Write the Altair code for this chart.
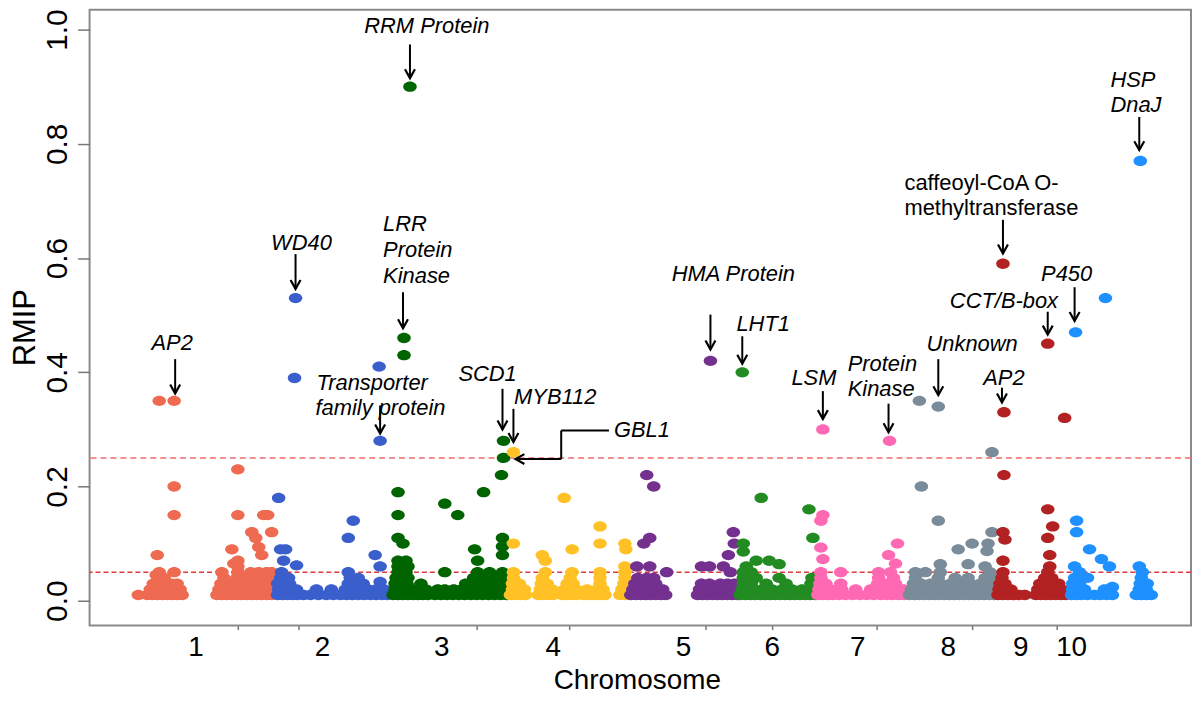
import altair as alt
import pandas as pd

# ---------------- data ----------------
chromosomes = ["1", "2", "3", "4", "5", "6", "7", "8", "9", "10"]
chrom_colors = ["#EE6A50", "#3A5FCD", "#006400", "#FFC125", "#73308F",
                "#228B22", "#FF69B4", "#7A8B99", "#B22222", "#1E90FF"]
chrom_label_pos = [197, 324, 444, 556, 687, 776, 862, 953, 1026, 1077]
x_tick_pos = [239, 300, 479, 572, 709, 776, 881, 977, 1062]
y_tick_vals = [0.0, 0.2, 0.4, 0.6, 0.8, 1.0]
threshold_upper = 0.25
threshold_lower = 0.05

chr1_pts = [
    (139, .01),
    (148, .01), (153, .01), (158, .01), (163, .01), (168, .01), (173, .01), (178, .01), (183, .01),
    (151, .02), (157, .02), (163, .02), (169, .02), (175, .02), (181, .02),
    (154, .03), (160, .03), (172, .03), (178, .03), (165, .04), (157, .045),
    (160, .05), (175, .05), (158, .08), (175, .15), (175, .20), (160, .35), (175, .35),
    (218, .01), (223, .01), (228, .01), (233, .01), (238, .01), (243, .01), (248, .01), (253, .01),
    (258, .01), (263, .01), (268, .01), (273, .01),
    (220, .02), (226, .02), (232, .02), (238, .02), (244, .02), (250, .02), (256, .02), (262, .02),
    (268, .02), (274, .02),
    (222, .03), (229, .03), (236, .03), (242, .03), (250, .03), (257, .03), (264, .03), (271, .03),
    (225, .04), (238, .04), (246, .04), (255, .04), (266, .04), (273, .04),
    (223, .05), (239, .05), (252, .05), (260, .05), (268, .05), (273, .05),
    (239, .06), (235, .065), (239, .07), (233, .09), (253, .12), (257, .11), (260, .094), (263, .08),
    (265, .15), (269, .15), (273, .12), (239, .15), (239, .23),
]
chr2_pts = [
    (279, .01), (284, .01), (289, .01), (294, .01), (299, .01), (305, .01), (312, .01), (320, .01),
    (328, .01), (335, .01), (342, .01), (348, .01), (354, .01), (360, .01), (366, .01), (372, .01),
    (378, .01), (384, .01), (389, .01),
    (280, .02), (286, .02), (292, .02), (298, .02), (318, .02), (333, .02), (347, .02), (353, .02),
    (359, .02), (370, .02), (378, .02), (386, .02),
    (279, .03), (285, .03), (291, .03), (350, .03), (356, .03), (365, .03), (382, .033),
    (282, .04), (290, .04), (352, .04), (360, .04),
    (283, .05), (350, .05), (285, .07), (298, .062), (282, .09), (287, .09), (280, .18),
    (350, .11), (355, .14), (377, .08), (382, .06),
    (296, .39), (297, .53), (381, .41), (382, .28),
]
chr3_pts = [
    (395, .01), (400, .01), (405, .01), (410, .01), (415, .01), (420, .01), (425, .01), (430, .01),
    (397, .02), (403, .02), (409, .02), (415, .02), (421, .02), (428, .02),
    (397, .03), (403, .03), (409, .03), (423, .03),
    (398, .04), (405, .04), (410, .04), (400, .05), (408, .05),
    (400, .06), (410, .06), (400, .07), (408, .07), (400, .11), (405, .10), (400, .15), (400, .19),
    (406, .43), (406, .46), (412, .90),
    (437, .01), (443, .01), (449, .01), (455, .01), (461, .01), (467, .01), (473, .01), (479, .01),
    (485, .01), (491, .01), (497, .01), (503, .01), (509, .01),
    (440, .02), (447, .02), (456, .02), (464, .02), (470, .02), (476, .02), (482, .02), (488, .02),
    (494, .02), (500, .02), (506, .02),
    (468, .03), (474, .03), (480, .03), (486, .03), (492, .03), (498, .03), (505, .03),
    (476, .04), (482, .04), (490, .04), (497, .04), (505, .04),
    (447, .05), (480, .05), (492, .05), (505, .05),
    (480, .07), (477, .09), (505, .08), (505, .095), (505, .11),
    (447, .17), (460, .15), (486, .19), (504, .22), (506, .25), (506, .28),
]
chr4_pts = [
    (513, .01), (518, .01), (523, .01), (528, .01), (515, .02), (521, .02), (527, .02),
    (515, .03), (522, .03), (516, .04), (516, .05), (516, .10), (516, .26),
    (541, .01), (546, .01), (551, .01), (556, .01), (543, .02), (549, .02), (555, .02),
    (544, .03), (550, .03), (545, .04), (548, .05), (548, .07), (545, .08),
    (565, .01), (570, .01), (575, .01), (580, .01), (567, .02), (573, .02), (579, .02),
    (570, .03), (576, .03), (573, .04), (575, .05), (575, .09), (567, .18),
    (587, .01), (592, .01), (590, .02),
    (598, .01), (603, .01), (608, .01), (600, .02), (606, .02),
    (603, .03), (603, .04), (603, .05), (603, .10), (603, .13),
    (623, .01), (628, .01), (633, .01), (625, .02), (631, .02),
    (627, .03), (628, .04), (628, .05), (628, .06), (629, .09), (628, .10),
]
chr5_pts = [
    (634, .01), (639, .01), (644, .01), (649, .01), (654, .01), (659, .01), (664, .01), (669, .01),
    (636, .02), (642, .02), (648, .02), (654, .02), (660, .02), (666, .02),
    (638, .03), (645, .03), (652, .03), (659, .03), (641, .04), (650, .04), (657, .04),
    (640, .06), (653, .06), (670, .05), (647, .10), (653, .11), (650, .22), (657, .20),
    (701, .01), (706, .01), (711, .01), (716, .01), (721, .01), (726, .01), (731, .01), (736, .01),
    (741, .01),
    (703, .02), (709, .02), (715, .02), (721, .02), (727, .02), (733, .02), (739, .02),
    (705, .03), (713, .03), (724, .03), (731, .03), (738, .03),
    (705, .06), (713, .06), (727, .06), (732, .08), (737, .12), (738, .10), (734, .05),
    (714, .42),
]
chr6_pts = [
    (744, .01), (749, .01), (754, .01), (759, .01), (764, .01), (769, .01), (774, .01), (779, .01),
    (784, .01), (789, .01), (794, .01), (799, .01), (804, .01), (809, .01), (814, .01), (819, .01),
    (746, .02), (752, .02), (758, .02), (766, .02), (776, .02), (786, .02), (796, .02), (806, .02),
    (812, .02), (818, .02),
    (747, .03), (755, .03), (770, .03), (790, .03), (815, .03),
    (747, .04), (760, .04), (783, .04), (816, .04),
    (747, .05), (755, .05), (750, .06), (760, .07), (773, .07), (783, .064), (747, .086), (747, .10),
    (765, .18), (813, .16), (817, .11), (746, .40),
]
chr7_pts = [
    (822, .01), (827, .01), (832, .01), (837, .01), (843, .01), (850, .01), (857, .01), (864, .01),
    (871, .01), (878, .01), (885, .01), (891, .01), (897, .01), (903, .01), (909, .01),
    (823, .02), (829, .02), (835, .02), (846, .02), (860, .02), (875, .02), (884, .02), (890, .02),
    (896, .02), (902, .02), (908, .02),
    (824, .03), (830, .03), (845, .03), (882, .03), (892, .03), (900, .03),
    (825, .04), (883, .04), (898, .04),
    (825, .05), (845, .05), (883, .05), (895, .05),
    (827, .073), (825, .093), (825, .14), (827, .15), (893, .08), (900, .065), (902, .10),
    (827, .30), (894, .28),
]
chr8_pts = [
    (914, .01), (919, .01), (924, .01), (929, .01), (934, .01), (939, .01), (944, .01), (949, .01),
    (954, .01), (959, .01), (964, .01), (969, .01), (974, .01), (979, .01), (984, .01), (989, .01),
    (994, .01), (999, .01),
    (916, .02), (922, .02), (928, .02), (934, .02), (940, .02), (946, .02), (952, .02), (958, .02),
    (964, .02), (970, .02), (976, .02), (982, .02), (988, .02), (994, .02), (1000, .02),
    (918, .03), (926, .03), (935, .03), (945, .03), (955, .03), (965, .03), (975, .03), (985, .03),
    (995, .03),
    (920, .04), (943, .04), (960, .04), (973, .04), (990, .04), (998, .04),
    (920, .05), (930, .05), (945, .05), (995, .05),
    (945, .064), (973, .064), (990, .06), (963, .09), (977, .10), (992, .087), (993, .10),
    (997, .12), (943, .14), (926, .20), (997, .26), (924, .35), (943, .34),
]
chr9_pts = [
    (1003, .01), (1008, .01), (1013, .01), (1018, .01), (1024, .01), (1030, .01),
    (1004, .02), (1010, .02), (1016, .02), (1005, .03), (1010, .03),
    (1007, .04), (1008, .05), (1008, .07), (1008, .12), (1010, .107), (1009, .22), (1009, .33),
    (1008, .59),
    (1041, .01), (1046, .01), (1051, .01), (1056, .01), (1061, .01), (1066, .01), (1071, .01),
    (1043, .02), (1049, .02), (1055, .02), (1061, .02), (1067, .02),
    (1045, .03), (1052, .03), (1058, .03), (1064, .03), (1050, .04), (1057, .04),
    (1053, .05), (1055, .06), (1055, .08), (1053, .11), (1058, .13), (1053, .16), (1053, .45),
    (1070, .32),
]
chr10_pts = [
    (1077, .01), (1082, .01), (1087, .01), (1093, .01), (1100, .01), (1106, .01), (1112, .01),
    (1118, .01), (1142, .01), (1147, .01), (1152, .01), (1157, .01),
    (1078, .02), (1084, .02), (1090, .02), (1110, .02), (1118, .024), (1145, .02), (1152, .02),
    (1078, .03), (1085, .03), (1146, .03), (1153, .03),
    (1080, .04), (1093, .04), (1147, .04),
    (1085, .05), (1148, .05), (1080, .06), (1115, .06), (1145, .06), (1107, .073), (1095, .09),
    (1082, .12), (1082, .14),
    (1081, .47), (1111, .53), (1146, .77),
]

# annotation arrows: x position, top of shaft, tip (RMIP units)
arrow_x = [176, 297, 382, 405, 412, 505, 516, 714, 746, 827, 893, 943, 1007, 1008, 1053, 1080, 1145]
arrow_top = [0.423, 0.607, 0.342, 0.540, 0.974, 0.371, 0.336, 0.501, 0.463, 0.367, 0.345,
             0.423, 0.373, 0.667, 0.506, 0.549, 0.847]
arrow_tip = [0.363, 0.546, 0.293, 0.477, 0.915, 0.300, 0.278, 0.440, 0.415, 0.318, 0.295,
             0.360, 0.347, 0.608, 0.466, 0.490, 0.789]
# elbow arrow for GBL1
gbl1_path_x = [612, 564, 564, 518]
gbl1_path_y = [0.298, 0.298, 0.248, 0.248]

label_text = ["AP2", "WD40", "LRR", "Protein", "Kinase", "Transporter", "family protein",
              "RRM Protein", "SCD1", "MYB112", "GBL1", "HMA Protein", "LHT1", "LSM",
              "Protein", "Kinase", "Unknown", "AP2", "CCT/B-box", "P450",
              "caffeoyl-CoA O-", "methyltransferase", "HSP", "DnaJ"]
label_x = [173, 303, 385, 385, 385, 318, 317, 429, 490, 558, 617, 737, 767, 818,
           852, 852, 977, 1009, 1009, 1072, 909, 909, 1116, 1116]
label_y = [0.451, 0.626, 0.659, 0.614, 0.568, 0.381, 0.338, 1.006, 0.397, 0.357, 0.298,
           0.572, 0.485, 0.390, 0.414, 0.371, 0.449, 0.390, 0.525, 0.572, 0.731, 0.688,
           0.912, 0.868]
label_align = ["center", "center", "left", "left", "left", "left", "left", "center", "center",
               "center", "left", "center", "center", "center", "left", "left", "center",
               "center", "center", "center", "left", "left", "left", "left"]
label_italic = [True] * 20 + [False, False] + [True, True]

# ---------------- tables ----------------
all_pts = [chr1_pts, chr2_pts, chr3_pts, chr4_pts, chr5_pts,
           chr6_pts, chr7_pts, chr8_pts, chr9_pts, chr10_pts]
rows = []
for name, pts in zip(chromosomes, all_pts):
    for px, v in pts:
        rows.append({"pos": px, "rmip": v, "chrom": name})
points_df = pd.DataFrame(rows)

seg_rows = [{"x": ax, "x2": ax, "y": at, "y2": tp} for ax, at, tp in zip(arrow_x, arrow_top, arrow_tip)]
for i in range(len(gbl1_path_x) - 1):
    seg_rows.append({"x": gbl1_path_x[i], "x2": gbl1_path_x[i + 1],
                     "y": gbl1_path_y[i], "y2": gbl1_path_y[i + 1]})
seg_df = pd.DataFrame(seg_rows)

head_rows = [{"x": ax, "y": tp, "ang": 0} for ax, tp in zip(arrow_x, arrow_tip)]
head_rows.append({"x": gbl1_path_x[-1], "y": gbl1_path_y[-1], "ang": 90})
head_df = pd.DataFrame(head_rows)

lab_df = pd.DataFrame({"text": label_text, "x": label_x, "y": label_y,
                       "align": label_align, "italic": label_italic})
chrom_df = pd.DataFrame({"chrom": chromosomes, "x": chrom_label_pos})
thr_df = pd.DataFrame({"y": [threshold_upper, threshold_lower]})

# ---------------- chart ----------------
FONT = "Liberation Sans"
W, H = 1107, 619
xs = alt.Scale(domain=[90, 1197], nice=False, zero=False)
ys = alt.Scale(domain=[-0.0436, 1.0348], nice=False, zero=False)

ellipse = "M -1 0 A 1 0.76 0 1 1 1 0 A 1 0.76 0 1 1 -1 0 Z"
arrowhead = "M -1 -1.8 L 0 0 L 1 -1.8"

x_axis = alt.Axis(values=x_tick_pos, labels=False, tickSize=4, tickColor="#777777",
                  tickWidth=1.5, domain=False, grid=False, title="Chromosome",
                  titleFont=FONT, titleFontSize=28, titleFontWeight="normal",
                  titleColor="black", titleX=550, titleY=63, titleAlign="center",
                  titleBaseline="alphabetic")
y_axis = alt.Axis(values=y_tick_vals, format=".1f", labelAngle=270, labelAlign="center",
                  labelBaseline="alphabetic", labelFont=FONT, labelFontSize=30,
                  labelColor="black", labelPadding=11, tickSize=12, tickColor="#777777",
                  tickWidth=1.5, domain=False, grid=False, title="RMIP", titleFont=FONT,
                  titleFontSize=31, titleFontWeight="normal", titleColor="black",
                  titleAngle=270, titleX=-55, titleY=319, titleAlign="center",
                  titleBaseline="alphabetic")


def X(field):
    return alt.X(field, scale=xs, axis=x_axis)


def Y(field):
    return alt.Y(field, scale=ys, axis=y_axis)


base_thr = alt.Chart(thr_df)
thr_up = base_thr.transform_filter(alt.datum.y > 0.1).mark_rule(
    color="#F26B6B", strokeWidth=1.5, strokeDash=[6, 4]).encode(y=Y("y:Q"))
thr_lo = base_thr.transform_filter(alt.datum.y < 0.1).mark_rule(
    color="#E0383C", strokeWidth=1.5, strokeDash=[5, 3]).encode(y=Y("y:Q"))

pts = alt.Chart(points_df).mark_point(shape=ellipse, filled=True, size=185, opacity=1,
                                      strokeWidth=0).encode(
    x=X("pos:Q"),
    y=Y("rmip:Q"),
    color=alt.Color("chrom:N", scale=alt.Scale(domain=chromosomes, range=chrom_colors),
                    legend=None),
)

shafts = alt.Chart(seg_df).mark_rule(color="black", strokeWidth=2).encode(
    x=X("x:Q"), x2="x2:Q", y=Y("y:Q"), y2="y2:Q")

heads = alt.Chart(head_df).mark_point(shape=arrowhead, filled=False, size=100, opacity=1,
                                      color="black", strokeWidth=2.2).encode(
    x=X("x:Q"), y=Y("y:Q"), angle=alt.Angle("ang:Q", scale=None))

text_layers = []
for align in ["center", "left"]:
    for ital in [True, False]:
        sub = lab_df[(lab_df["align"] == align) & (lab_df["italic"] == ital)]
        if len(sub) == 0:
            continue
        text_layers.append(
            alt.Chart(sub).mark_text(font=FONT, fontSize=22, align=align, baseline="middle",
                                     fontStyle="italic" if ital else "normal",
                                     color="black").encode(
                x=X("x:Q"), y=Y("y:Q"), text="text:N"))

chrom_labels = alt.Chart(chrom_df).mark_text(font=FONT, fontSize=28, align="center",
                                             baseline="alphabetic", color="black").encode(
    x=X("x:Q"),
    y=alt.value(H + 31),
    text="chrom:N")

chart = alt.layer(thr_up, thr_lo, pts, shafts, heads, *text_layers, chrom_labels).properties(
    width=W, height=H,
    autosize=alt.AutoSizeParams(type="none"),
    padding={"left": 82, "top": 0, "right": 1, "bottom": 69},
).configure_view(stroke="#8a8a8a", strokeWidth=2)

chart.save("out.html", embed_options={"renderer": "svg", "actions": False})
